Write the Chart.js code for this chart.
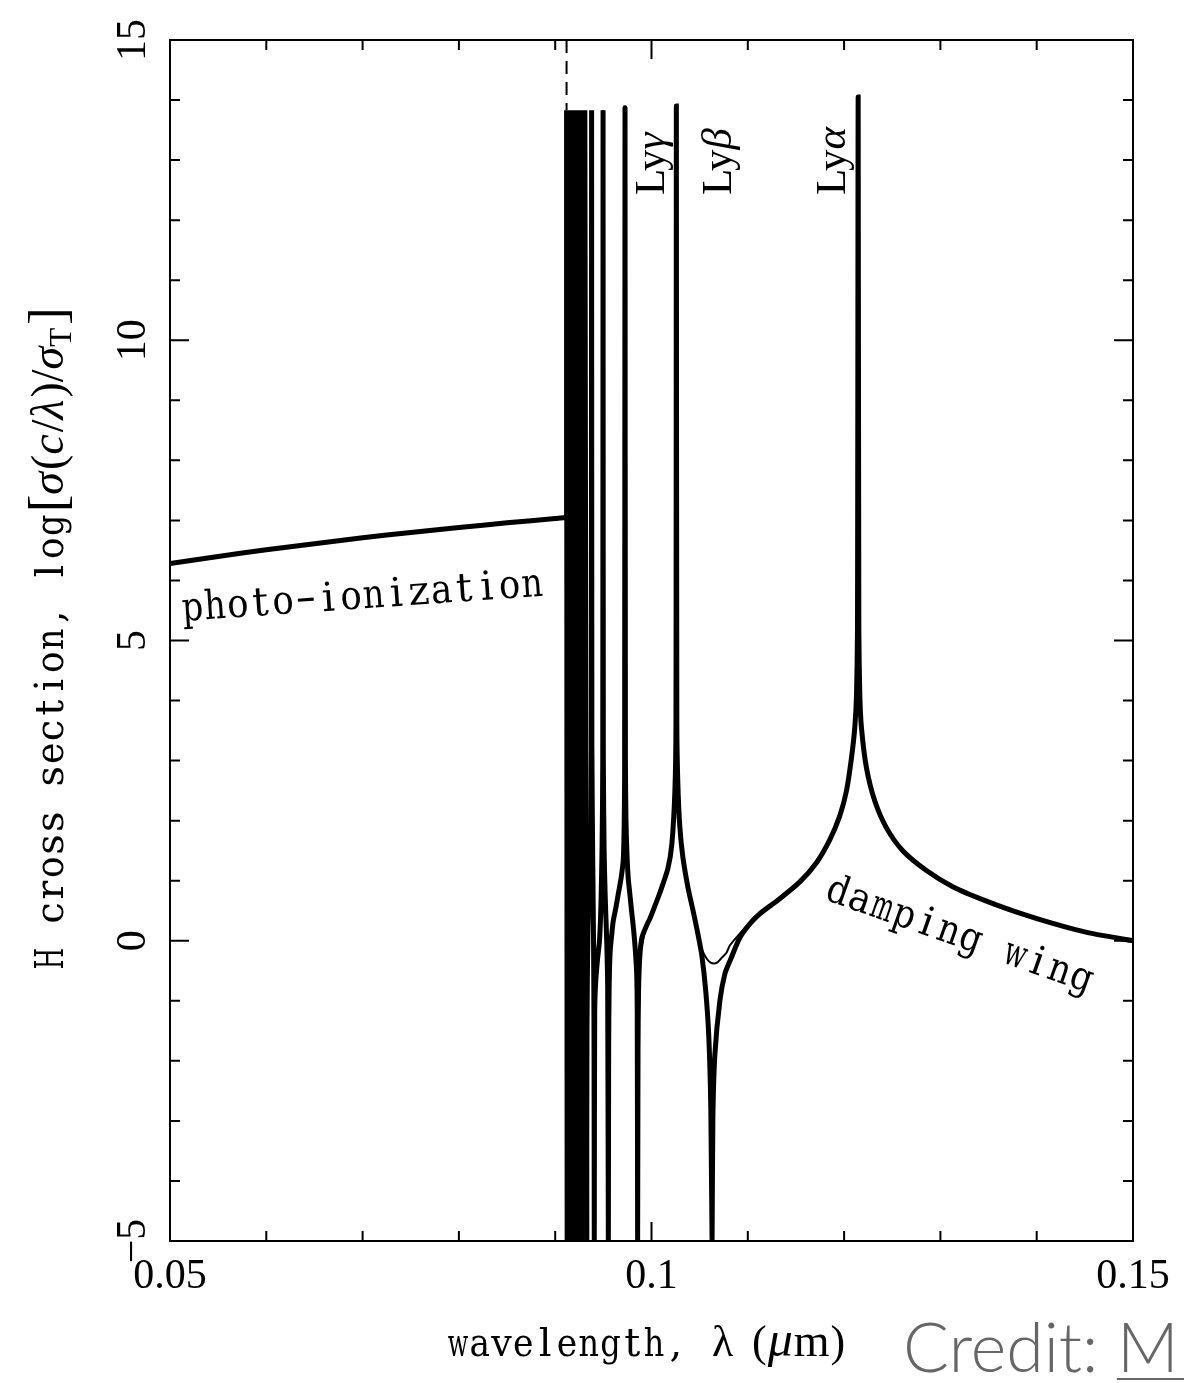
<!DOCTYPE html>
<html>
<head>
<meta charset="utf-8">
<title>H cross section</title>
<script src="https://cdn.jsdelivr.net/npm/chart.js@4.4.1/dist/chart.umd.min.js"></script>
<style>
  html, body { margin: 0; padding: 0; background: #fff; }
  canvas { display: block; }
</style>
</head>
<body>
<canvas id="chart" width="1184" height="1383"></canvas>
<script>
// wavelength in micron, log of cross section in units of sigma_T

// photo-ionization continuum blueward of the Lyman limit
var photoWave = [0.0500, 0.0550, 0.0600, 0.0650, 0.0700, 0.0750, 0.0800, 0.0850, 0.0900, 0.09118];
var photoLogSigma = [6.28, 6.40, 6.51, 6.61, 6.71, 6.80, 6.88, 6.96, 7.03, 7.05];

// series limit and the crowded high-n lines (drawn straight, no smoothing)
var limitWave = [
  0.09118, 0.09118, 0.09124, 0.09130, 0.09135, 0.09140, 0.09145, 0.09150, 0.09154, 0.09158,
  0.09161, 0.09164, 0.09168, 0.09172, 0.09176, 0.09181, 0.09186, 0.09194, 0.09198, 0.09210,
  0.09215, 0.09232, 0.09239, 0.09262, 0.09273, 0.09308, 0.09327
];
var limitLogSigma = [
  7.05, 13.83, -5, 13.83, -5, 13.83, -5, 13.83, -5, 13.83,
  -5, 13.83, -5, 13.83, -5, 13.83, -5, 13.83, -5, 13.83,
  -5, 13.83, -5, 13.83, -5, 13.83, -5
];

// Lyman series, coherent sum (drops to zero between lines)
var lineWave = [
  // n = 6
  0.09327, 0.09330, 0.09340, 0.09355, 0.09368, 0.09375, 0.09378, 0.09381, 0.09390, 0.09398,
  0.09403, 0.09406,
  // Ly delta
  0.09410, 0.09420, 0.09440, 0.09460, 0.09475, 0.09487, 0.09494, 0.09497, 0.09500, 0.09508,
  0.09520, 0.09535, 0.09545, 0.09552,
  // Ly gamma
  0.09555, 0.09560, 0.09570, 0.09590, 0.09603, 0.09630, 0.09655, 0.09685, 0.09707, 0.09716,
  0.09721, 0.09725, 0.09729, 0.09735, 0.09745, 0.09758, 0.09775, 0.09793, 0.09810, 0.09827,
  0.09845, 0.09852, 0.09856,
  // Ly beta
  0.09860, 0.09866, 0.09879, 0.09900, 0.09930, 0.09962, 0.09981, 0.10035, 0.10087, 0.10170,
  0.10212, 0.10243, 0.10254, 0.10258, 0.10263, 0.10274, 0.10294, 0.10325, 0.10377, 0.10429,
  0.10481, 0.10523, 0.10564, 0.10595, 0.10616, 0.10629,
  // Ly alpha and its damping wing
  0.10637, 0.10658, 0.10710, 0.10762, 0.10824, 0.10917, 0.11021, 0.11125, 0.11332, 0.11540,
  0.11713, 0.11851, 0.11955, 0.12025, 0.12077, 0.12111, 0.12129, 0.12139, 0.12146, 0.12153,
  0.12163, 0.12180, 0.12232, 0.12318, 0.12440, 0.12609, 0.12855, 0.13128, 0.13478, 0.13824,
  0.14167, 0.14520, 0.15000
];
var lineLogSigma = [
  -5, -1.5, 0.2, 1.0, 2.0, 3.2, 13.83, 3.2, 1.3, 0.0,
  -1.5, -5,
  -1.2, -0.7, -0.3, 0.0, 0.6, 1.6, 3.0, 13.83, 3.0, 1.5,
  0.7, 0.0, -0.8, -5,
  -1.8, -0.8, -0.2, 0.15, 0.33, 0.55, 0.78, 1.05, 1.35, 1.9,
  2.8, 13.87, 3.0, 2.0, 1.45, 1.05, 0.78, 0.5, 0.25, -0.05,
  -0.5, -1.2, -5,
  -1.8, -0.8, -0.25, 0.05, 0.18, 0.3, 0.36, 0.58, 0.8, 1.2,
  1.62, 2.5, 3.6, 13.9, 3.6, 2.6, 1.9, 1.4, 0.9, 0.52,
  0.12, -0.25, -0.85, -1.6, -2.8, -5,
  -3.0, -1.9, -1.0, -0.55, -0.3, 0.05, 0.28, 0.45, 0.70, 0.98,
  1.30, 1.68, 2.08, 2.5, 3.05, 3.55, 4.1, 5.2, 14.05, 5.2,
  4.1, 3.55, 2.88, 2.33, 1.88, 1.5, 1.17, 0.90, 0.66, 0.46,
  0.29, 0.14, 0.0
];

// incoherent sum (no interference zeros), only where it leaves the coherent curve
var thinWave = [
  0.09497, 0.09500, 0.09508, 0.09520, 0.09535, 0.09552, 0.09570, 0.09590, 0.09603, 0.09630,
  0.09655, 0.09685, 0.09707, 0.09716, 0.09721, 0.09725, 0.09729, 0.09735, 0.09745, 0.09758,
  0.09775, 0.09793, 0.09810, 0.09827, 0.09840, 0.09850, 0.09858, 0.09872, 0.09897, 0.09930,
  0.09962, 0.09981, 0.10035, 0.10087, 0.10170, 0.10212, 0.10243, 0.10254, 0.10258, 0.10263,
  0.10274, 0.10294, 0.10325, 0.10377, 0.10429, 0.10481, 0.10530, 0.10574, 0.10610, 0.10650,
  0.10685, 0.10720, 0.10779, 0.10813, 0.10917, 0.11021, 0.11125, 0.11332
];
var thinLogSigma = [
  13.83, 3.0, 1.5, 0.7, 0.1, -0.15, -0.05, 0.15, 0.33, 0.55,
  0.78, 1.05, 1.35, 1.9, 2.8, 13.87, 3.0, 2.0, 1.45, 1.05,
  0.78, 0.5, 0.25, -0.05, -0.22, -0.32, -0.36, -0.28, -0.12, 0.15,
  0.3, 0.36, 0.58, 0.8, 1.2, 1.62, 2.5, 3.6, 13.9, 3.6,
  2.6, 1.9, 1.4, 0.9, 0.52, 0.12, -0.17, -0.3, -0.36, -0.38,
  -0.36, -0.3, -0.2, -0.08, 0.12, 0.3, 0.45, 0.70
];

// Lyman limit marker
var edgeWave = [0.09118, 0.09118];
var edgeLogSigma = [15, 13.83];

var xTickValues = [0.05, 0.1, 0.15];
var xTickLabels = ['0.05', '0.1', '0.15'];
var yTickValues = [15, 10, 5, 0, -5];
var yTickLabels = ['15', '10', '5', '0', '\u22125'];

var SERIF = '"Liberation Serif", serif';
var TYPE = '"DejaVu Serif", serif';

var toPoints = function (xs, ys) {
  return xs.map(function (x, i) { return { x: x, y: ys[i] }; });
};

// typewriter-style text: every glyph centred in a fixed cell, wide ones squeezed
var monoRun = function (ctx, text, x, size, adv) {
  ctx.font = size + 'px ' + TYPE;
  ctx.textAlign = 'center';
  for (var i = 0; i < text.length; i++) {
    var w = ctx.measureText(text[i]).width;
    var s = w > adv * 0.94 ? adv * 0.94 / w : 1;
    ctx.save();
    ctx.translate(x + (i + 0.5) * adv, 0);
    ctx.scale(s, 1);
    ctx.fillText(text[i], 0, 0);
    ctx.restore();
  }
  ctx.textAlign = 'left';
  return x + text.length * adv;
};

var serifRun = function (ctx, text, x, font, dy) {
  ctx.font = font;
  ctx.fillText(text, x, dy || 0);
  return x + ctx.measureText(text).width;
};

var framePlugin = {
  id: 'frame',
  afterDatasetsDraw: function (chart) {
    var ctx = chart.ctx, a = chart.chartArea;
    var xs = chart.scales.x, ys = chart.scales.y;
    var i, p, len;
    ctx.save();
    ctx.strokeStyle = '#000';
    ctx.lineWidth = 2;
    ctx.strokeRect(a.left, a.top, a.right - a.left, a.bottom - a.top);
    ctx.beginPath();
    // inward ticks, minor every 0.01 micron, major every 0.05
    for (i = 0; i <= 10; i++) {
      p = xs.getPixelForValue(0.05 + i * 0.01);
      len = i % 5 === 0 ? 19 : 10;
      ctx.moveTo(p, a.bottom); ctx.lineTo(p, a.bottom - len);
      ctx.moveTo(p, a.top); ctx.lineTo(p, a.top + len);
    }
    // minor every 1, major every 5
    for (i = -5; i <= 15; i++) {
      p = ys.getPixelForValue(i);
      len = i % 5 === 0 ? 19 : 10;
      ctx.moveTo(a.left, p); ctx.lineTo(a.left + len, p);
      ctx.moveTo(a.right, p); ctx.lineTo(a.right - len, p);
    }
    ctx.stroke();
    ctx.restore();
  },
  afterDraw: function (chart) {
    var ctx = chart.ctx;
    var ys = chart.scales.y;
    var x, i;
    ctx.save();
    ctx.fillStyle = '#000';
    ctx.strokeStyle = '#000';
    ctx.textBaseline = 'alphabetic';

    // y tick labels, rotated
    ctx.font = '42px ' + SERIF;
    ctx.textAlign = 'center';
    for (i = 0; i < yTickValues.length; i++) {
      ctx.save();
      ctx.translate(145, ys.getPixelForValue(yTickValues[i]));
      ctx.rotate(-Math.PI / 2);
      ctx.fillText(yTickLabels[i], 0, 0);
      ctx.restore();
    }
    ctx.textAlign = 'left';

    // y axis title
    ctx.save();
    ctx.translate(63, 970);
    ctx.rotate(-Math.PI / 2);
    x = monoRun(ctx, 'H cross section, log', 0, 40, 22.8);
    x = serifRun(ctx, '[', x + 2, '52px ' + SERIF, 2);
    x = serifRun(ctx, '\u03c3', x, 'italic 46px ' + SERIF);
    x = serifRun(ctx, '(', x + 2, '46px ' + SERIF);
    x = serifRun(ctx, 'c', x, 'italic 46px ' + SERIF);
    x = serifRun(ctx, '/', x + 2, '46px ' + SERIF);
    x = serifRun(ctx, '\u03bb', x, 'italic 46px ' + SERIF);
    x = serifRun(ctx, ')/', x + 2, '46px ' + SERIF);
    x = serifRun(ctx, '\u03c3', x, 'italic 46px ' + SERIF);
    x = serifRun(ctx, 'T', x, '31px ' + SERIF, 8);
    serifRun(ctx, ']', x + 3, '52px ' + SERIF, 2);
    ctx.restore();

    // x axis title
    ctx.save();
    ctx.translate(447, 1356);
    monoRun(ctx, 'wavelength,', 0, 40, 21.8);
    serifRun(ctx, '\u03bb', 265, '44px ' + SERIF);
    x = serifRun(ctx, '(', 305, '44px ' + SERIF);
    x = serifRun(ctx, '\u03bc', x + 1, 'italic 50px ' + SERIF);
    x = serifRun(ctx, 'm', x + 1, '46px ' + SERIF);
    serifRun(ctx, ')', x + 1, '44px ' + SERIF);
    ctx.restore();

    // line labels, reading upward
    var lyLabel = function (bx, greek) {
      ctx.save();
      ctx.translate(bx, 195);
      ctx.rotate(-Math.PI / 2);
      var e = serifRun(ctx, 'Ly', 0, '43px ' + SERIF);
      serifRun(ctx, greek, e, 'italic 43px ' + SERIF);
      ctx.restore();
    };
    lyLabel(664, '\u03b3');
    lyLabel(731, '\u03b2');
    lyLabel(845, '\u03b1');

    // curve annotations
    ctx.save();
    ctx.translate(182, 621);
    ctx.rotate(-4 * Math.PI / 180);
    monoRun(ctx, 'photo\u2212ionization', 0, 40, 22.7);
    ctx.restore();

    ctx.save();
    ctx.translate(823, 899);
    ctx.rotate(19.5 * Math.PI / 180);
    monoRun(ctx, 'damping wing', 0, 40, 23.5);
    ctx.restore();

    // credit line, cut by the page edge
    ctx.fillStyle = '#666';
    ctx.strokeStyle = '#666';
    ctx.font = '300 68px Lato, sans-serif';
    ctx.fillText('Credit: ', 903, 1372);
    var mx = 903 + ctx.measureText('Credit: ').width;
    ctx.fillText('M', mx, 1372);
    ctx.lineWidth = 2;
    ctx.beginPath();
    ctx.moveTo(mx, 1379);
    ctx.lineTo(1184, 1379);
    ctx.stroke();
    ctx.restore();
  }
};

var lineStyle = {
  showLine: true,
  pointRadius: 0,
  borderColor: '#000',
  backgroundColor: '#000',
  tension: 0.25,
  fill: false,
  clip: 0
};

new Chart(document.getElementById('chart'), {
  type: 'scatter',
  data: {
    datasets: [
      Object.assign({}, lineStyle, { label: 'photo-ionization', data: toPoints(photoWave, photoLogSigma), borderWidth: 5 }),
      Object.assign({}, lineStyle, { label: 'series limit', data: toPoints(limitWave, limitLogSigma), borderWidth: 5, tension: 0 }),
      Object.assign({}, lineStyle, { label: 'Lyman series', data: toPoints(lineWave, lineLogSigma), borderWidth: 5 }),
      Object.assign({}, lineStyle, { label: 'incoherent', data: toPoints(thinWave, thinLogSigma), borderWidth: 2 }),
      Object.assign({}, lineStyle, { label: 'Lyman limit', data: toPoints(edgeWave, edgeLogSigma), borderWidth: 2, borderDash: [13, 8], tension: 0 })
    ]
  },
  options: {
    responsive: false,
    animation: false,
    devicePixelRatio: 1,
    layout: { padding: { top: 40, right: 51, left: 0, bottom: 0 } },
    plugins: { legend: { display: false }, tooltip: { enabled: false } },
    scales: {
      x: {
        type: 'linear',
        min: 0.05,
        max: 0.15,
        grid: { display: false, drawTicks: false },
        border: { display: false },
        afterBuildTicks: function (s) {
          s.ticks = xTickValues.map(function (v) { return { value: v }; });
        },
        afterFit: function (s) { s.height = 142; },
        ticks: {
          autoSkip: false,
          maxRotation: 0,
          padding: 11,
          color: '#000',
          font: { family: 'Liberation Serif', size: 42 },
          callback: function (v) { return xTickLabels[xTickValues.indexOf(Math.round(v * 100) / 100)]; }
        }
      },
      y: {
        type: 'linear',
        min: -5,
        max: 15,
        grid: { display: false, drawTicks: false },
        border: { display: false },
        ticks: { display: false },
        afterFit: function (s) { s.width = 170; }
      }
    }
  },
  plugins: [framePlugin]
});
</script>
</body>
</html>
